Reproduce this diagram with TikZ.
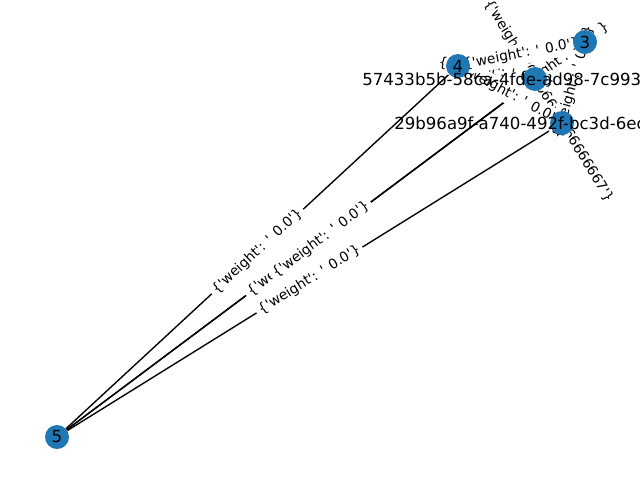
\documentclass[tikz,border=0pt]{standalone}
\usepackage{fontspec}
\newfontfamily\plotfont{DejaVu Sans}
\usetikzlibrary{backgrounds}
\definecolor{nodeblue}{HTML}{1F77B4}
\def\wzero{\{'weight': ' 0.0'\}}
\def\wsixth{\{'weight': '0.166666666666667'\}}
\tikzset{
  vertex/.style={circle,fill=nodeblue,minimum size=6mm,inner sep=0pt},
  edge/.style={draw=black,line width=0.98pt},
  numtext/.style={font=\plotfont\fontsize{11.8}{13}\selectfont,inner sep=0pt},
  idtext/.style={font=\plotfont\fontsize{11.8}{13}\selectfont,inner sep=0pt,anchor=west},
  wlabel/.style={font=\plotfont\fontsize{9.8}{11}\selectfont,fill=white,rounded corners=3pt,inner sep=2.5pt,sloped,midway}
}

\begin{document}
\begin{tikzpicture}[x=0.25mm,y=-0.25mm]
%%%%% START %%%%%
\useasboundingbox (0,0) rectangle (640,480);
\clip (0,0) rectangle (640,480);

\node[vertex] (n57) at (535,79) {};
\node[vertex] (n29) at (562,123) {};
\node[vertex] (n3) at (585,42) {};
\node[vertex] (n4) at (458,66) {};
\node[vertex] (n5) at (57,437) {};

\begin{pgfonlayer}{background}
\draw[edge] (n57) -- (n29);
\draw[edge] (n57) -- (n3);
\draw[edge] (n57) -- (n4);
\draw[edge] (n57) -- (n5);
\draw[edge] (n29) -- (n3);
\draw[edge] (n29) -- (n4);
\draw[edge] (n29) -- (n5);
\draw[edge] (n3) -- (n4);
\draw[edge] (n3) -- (n5);
\draw[edge] (n4) -- (n5);

% weight labels
\path (n57) -- node[wlabel] {\wsixth} (n29);
\path (n57) -- node[wlabel] {\wzero} (n3);
\path (n57) -- node[wlabel] {\wzero} (n4);
\path (n57) -- node[wlabel] {\wzero} (n5);
\path (n29) -- node[wlabel] {\wzero} (n3);
\path (n29) -- node[wlabel] {\wzero} (n4);
\path (n29) -- node[wlabel] {\wzero} (n5);
\path (n3) -- node[wlabel] {\wzero} (n4);
\path (n3) -- node[wlabel] {\wzero} (n5);
\path (n4) -- node[wlabel] {\wzero} (n5);
\end{pgfonlayer}

\node[idtext] (t57) at (362,79) {57433b5b-58ca-4fde-ad98-7c993};
\node[idtext] (t29) at (394,123) {29b96a9f-a740-492f-bc3d-6ec};
\node[numtext] (t3) at (n3) {3};
\node[numtext] (t4) at (n4) {4};
\node[numtext] (t5) at (n5) {5};
%%%%% END %%%%%
\end{tikzpicture}
\end{document}
